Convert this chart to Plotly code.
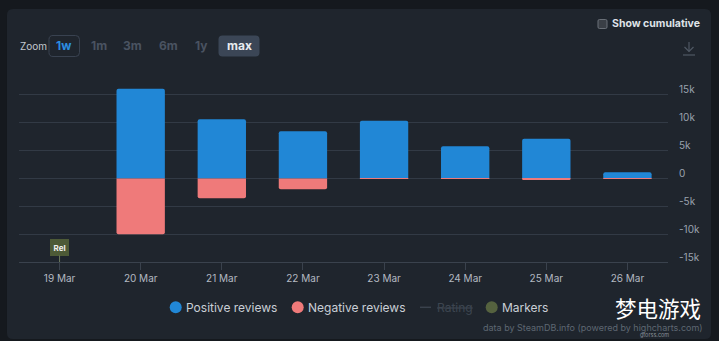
import plotly.graph_objects as go

# ---- data ----
dates = ["19 Mar", "20 Mar", "21 Mar", "22 Mar", "23 Mar", "24 Mar", "25 Mar", "26 Mar"]
positive = [0, 16100, 10600, 8450, 10350, 5770, 7140, 1130]
negative = [0, -10000, -3570, -1960, -60, -60, -180, -40]
y_ticks = [-15000, -10000, -5000, 0, 5000, 10000, 15000, 20000]
y_tick_text = ["-15k", "-10k", "-5k", "0", "5k", "10k", "15k", ""]
marker_date = "19 Mar"
marker_label = "Rel"
legend_names = ["Positive reviews", "Negative reviews", "Rating", "Markers"]
zoom_buttons = ["1w", "1m", "3m", "6m", "1y", "max"]

# ---- style ----
W, H = 719, 341
ML, MR, MT, MB = 19, 51, 67, 79
PL, PR, PT, PB = ML, W - MR, MT, H - MB
FONT = "Inter, Noto Sans, sans-serif"
BG_OUT = "#15191e"
BG_PANEL = "#1f252d"
GRID = "#323a45"
BLUE = "#2187d6"
PINK = "#ef7a7a"
OLIVE = "#4d5a37"


def px(x):
    return (x - PL) / (PR - PL)


def py(y):
    return (PB - y) / (PB - PT)


def rrect(x0, y0, x1, y1, r):
    pts = [
        ("M", [(x0 + r, y0)]), ("L", [(x1 - r, y0)]), ("Q", [(x1, y0), (x1, y0 + r)]),
        ("L", [(x1, y1 - r)]), ("Q", [(x1, y1), (x1 - r, y1)]), ("L", [(x0 + r, y1)]),
        ("Q", [(x0, y1), (x0, y1 - r)]), ("L", [(x0, y0 + r)]), ("Q", [(x0, y0), (x0 + r, y0)]),
    ]
    s = ""
    for cmd, ps in pts:
        s += cmd + " " + " ".join(f"{px(a):.5f},{py(b):.5f}" for a, b in ps) + " "
    return s + "Z"


fig = go.Figure()
fig.add_trace(go.Bar(x=dates, y=positive, name=legend_names[0], marker=dict(color=BLUE, cornerradius=2, line=dict(width=0)), showlegend=False))
fig.add_trace(go.Bar(x=dates, y=negative, name=legend_names[1], marker=dict(color=PINK, cornerradius=2, line=dict(width=0)), showlegend=False))

shapes = []
annotations = []

# panel background
shapes.append(dict(type="path", xref="paper", yref="paper", path=rrect(7, 9, 711, 339, 6),
                   fillcolor=BG_PANEL, line=dict(width=0), layer="below"))

# zoom buttons
annotations.append(dict(xref="paper", yref="paper", x=px(18), y=py(46), text="Zoom", showarrow=False,
                        xanchor="left", yanchor="middle", font=dict(family=FONT, size=10, color="#c3c8cf")))
shapes.append(dict(type="path", xref="paper", yref="paper", path=rrect(49, 35.5, 79.5, 56.5, 4),
                   fillcolor="rgba(0,0,0,0)", line=dict(color="#3a4351", width=1)))
shapes.append(dict(type="path", xref="paper", yref="paper", path=rrect(218.5, 35.5, 259.5, 56.5, 4),
                   fillcolor="#3b4656", line=dict(width=0)))
btn_x = [64.3, 98.7, 132.7, 168.3, 201, 239]
btn_col = ["#2b8ee0", "#4a5361", "#4a5361", "#4a5361", "#4a5361", "#e8ebef"]
for t, x, c in zip(zoom_buttons, btn_x, btn_col):
    annotations.append(dict(xref="paper", yref="paper", x=px(x), y=py(46), text=f"<b>{t}</b>", showarrow=False,
                            xanchor="center", yanchor="middle", font=dict(family=FONT, size=12, color=c)))

# show cumulative checkbox
shapes.append(dict(type="path", xref="paper", yref="paper", path=rrect(598, 19.5, 607, 28.5, 1.5),
                   fillcolor="#3a3f46", line=dict(color="#6b7179", width=1)))
annotations.append(dict(xref="paper", yref="paper", x=px(610), y=py(24), text="<b>Show cumulative</b>", showarrow=False,
                        xanchor="left", yanchor="middle", font=dict(family=FONT, size=10.5, color="#dfe3e8")))

# download icon
ic = "#4f5863"
shapes.append(dict(type="line", xref="paper", yref="paper", x0=px(689), x1=px(689), y0=py(42), y1=py(51.5), line=dict(color=ic, width=1.2)))
shapes.append(dict(type="path", xref="paper", yref="paper",
                   path=f"M {px(684.5)},{py(47)} L {px(689)},{py(51.5)} L {px(693.5)},{py(47)}",
                   line=dict(color=ic, width=1.2)))
shapes.append(dict(type="line", xref="paper", yref="paper", x0=px(683), x1=px(695), y0=py(55), y1=py(55), line=dict(color=ic, width=1.2)))

# release marker flag
annotations.append(dict(x=marker_date, y=y_ticks[0], xref="x", yref="y", text=f"<b>{marker_label}</b>",
                        showarrow=True, arrowhead=0, arrowwidth=1, arrowcolor="#6d7a5c", ax=0, ay=-14.5,
                        bgcolor=OLIVE, bordercolor=OLIVE, borderpad=2.5,
                        font=dict(family=FONT, size=8, color="#f0f0f0")))

# manual legend
LY = 307.3
leg_text = "#c9cfd6"
for cx, col in [(175.7, BLUE), (297.7, PINK), (491.7, "#55623f")]:
    shapes.append(dict(type="circle", xref="paper", yref="paper", x0=px(cx - 6), x1=px(cx + 6),
                       y0=py(LY + 6), y1=py(LY - 6), fillcolor=col, line=dict(width=0)))
shapes.append(dict(type="line", xref="paper", yref="paper", x0=px(420), x1=px(431), y0=py(LY), y1=py(LY),
                   line=dict(color="#3a424d", width=1.5)))
for tx, name, col in [(184, legend_names[0], leg_text), (305.5, legend_names[1], leg_text),
                      (434.5, f"<s>{legend_names[2]}</s>", "#3d4550"), (500, legend_names[3], leg_text)]:
    annotations.append(dict(xref="paper", yref="paper", x=px(tx), y=py(LY), text=name, showarrow=False,
                            xanchor="left", yanchor="middle", font=dict(family=FONT, size=12, color=col)))

# credits and watermark
annotations.append(dict(xref="paper", yref="paper", x=px(480.5), y=py(327.5),
                        text="data by SteamDB.info (powered by highcharts.com)", showarrow=False,
                        xanchor="left", yanchor="middle", font=dict(family=FONT, size=9, color="#5e6772")))
annotations.append(dict(xref="paper", yref="paper", x=px(658), y=py(307), text="梦电游戏", showarrow=False,
                        xanchor="center", yanchor="middle",
                        font=dict(family="Noto Sans CJK SC", size=21.5, color="#ffffff")))
annotations.append(dict(xref="paper", yref="paper", x=px(654), y=py(335), text="gtorss.com", showarrow=False,
                        xanchor="center", yanchor="middle", font=dict(family=FONT, size=5.5, color="#8a9099")))

fig.update_layout(
    width=W, height=H,
    margin=dict(l=ML, r=MR, t=MT, b=MB, pad=0),
    paper_bgcolor=BG_OUT, plot_bgcolor="rgba(0,0,0,0)",
    barmode="relative", bargap=0.404,
    showlegend=False,
    font=dict(family=FONT),
    shapes=shapes, annotations=annotations,
    xaxis=dict(type="category", categoryarray=dates, range=[-0.5, len(dates) - 0.5],
               showgrid=False, showline=True, linecolor="#3a424d", linewidth=1,
               ticks="outside", ticklen=7, tickcolor="#3a424d", tickwidth=1,
               tickfont=dict(family=FONT, size=10, color="#b3b9c1"), fixedrange=True),
    yaxis=dict(side="right", range=[y_ticks[0], y_ticks[-1]], tickvals=y_ticks, ticktext=y_tick_text,
               showgrid=True, gridcolor=GRID, gridwidth=1, zeroline=False, showline=False,
               ticklabelshift=-5, ticklabelstandoff=10,
               tickfont=dict(family=FONT, size=10, color="#9aa2ad"), fixedrange=True),
)

fig.write_html("out.html")
